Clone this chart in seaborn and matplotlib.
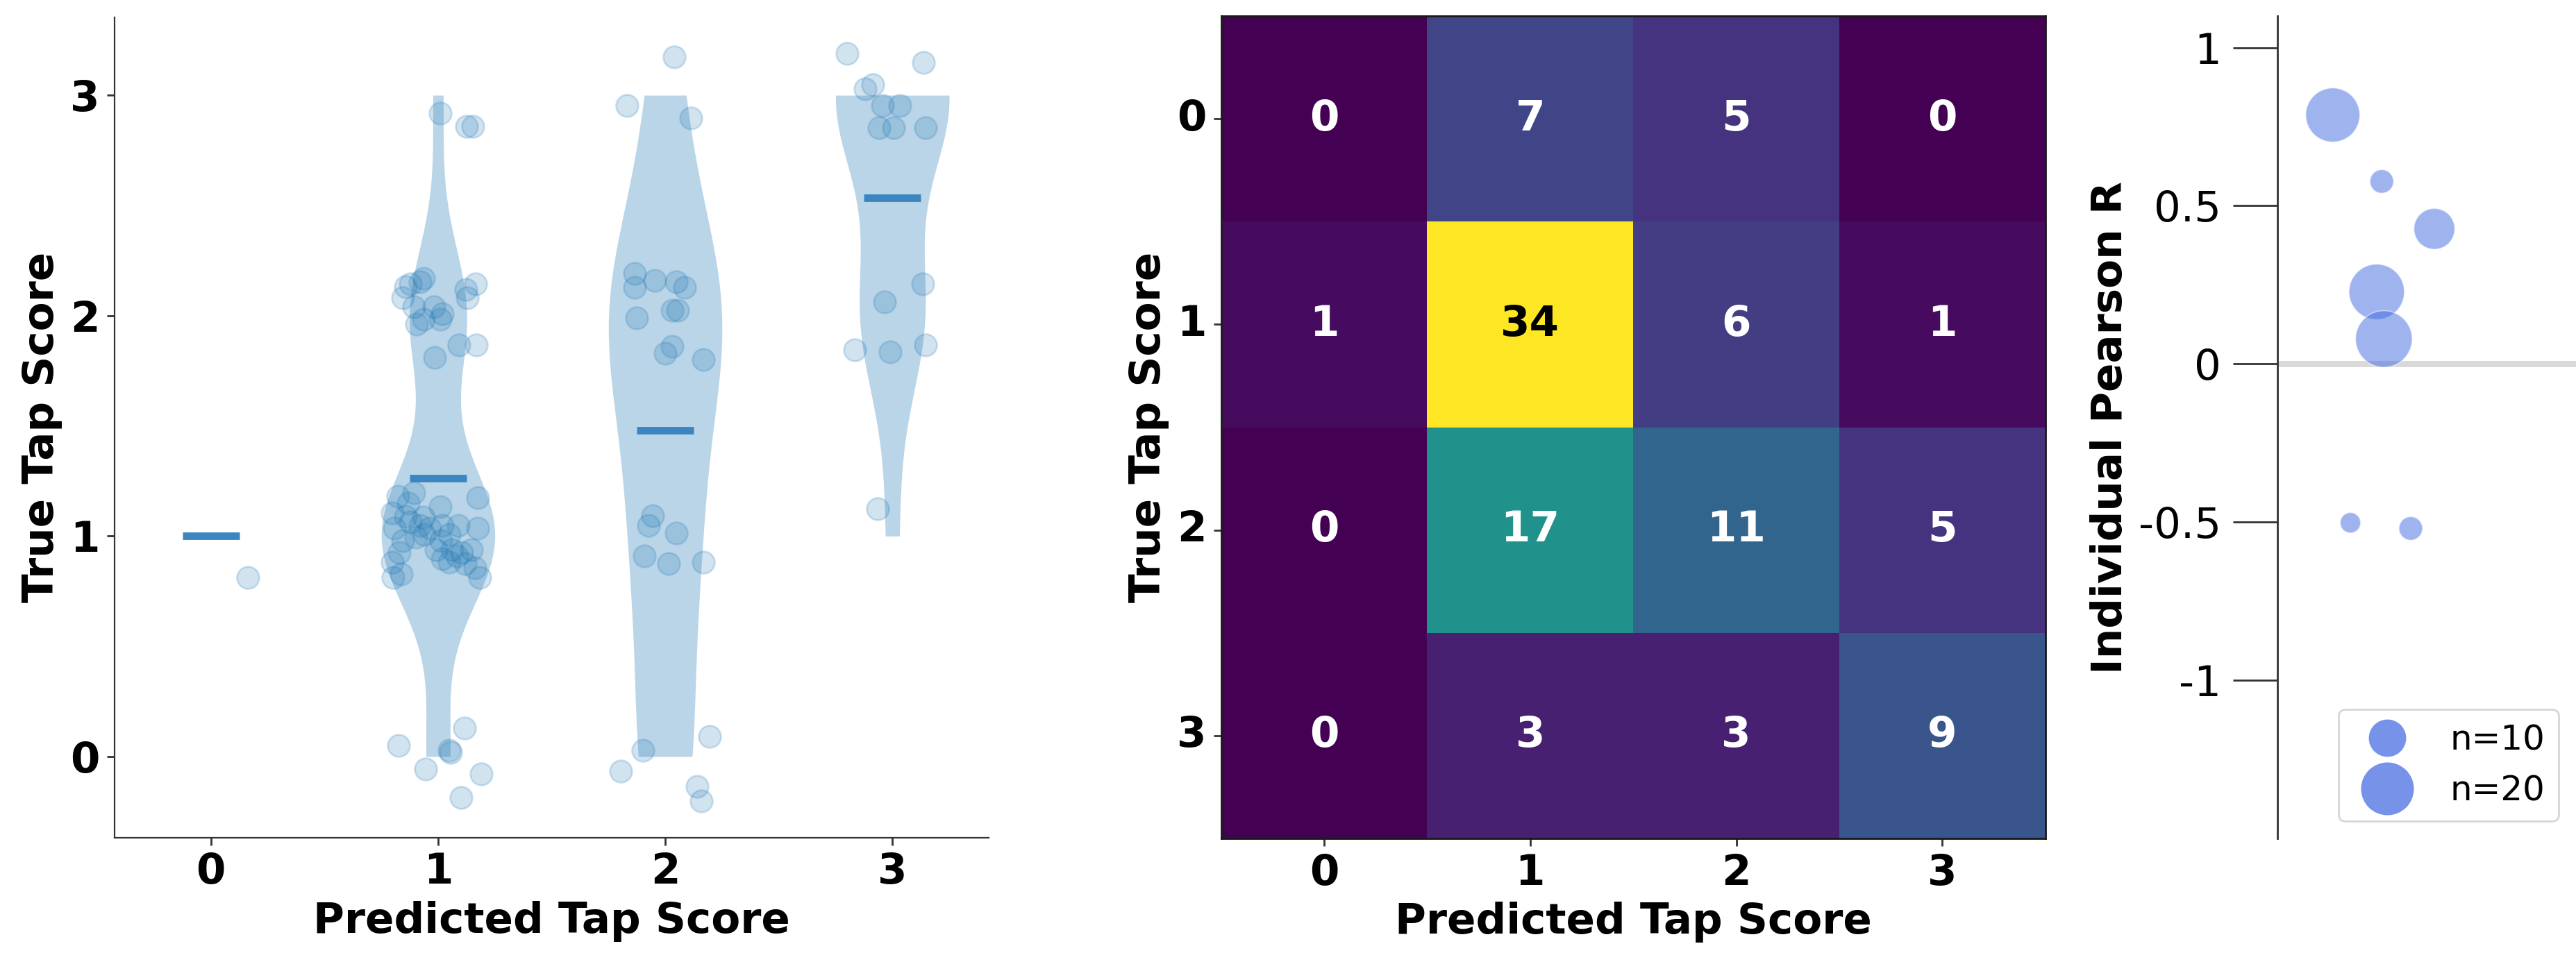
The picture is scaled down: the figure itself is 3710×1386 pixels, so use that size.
import numpy as np
import pandas as pd
import matplotlib
matplotlib.use("Agg")
import matplotlib.pyplot as plt
from matplotlib.lines import Line2D
from matplotlib.colors import to_rgb
import seaborn as sns

# ---------------- data ----------------
scores = [0, 1, 2, 3]
score_labels = ["0", "1", "2", "3"]

# confusion matrix: rows = true score, columns = predicted score
confusion = [[0, 7, 5, 0],
             [1, 34, 6, 1],
             [0, 17, 11, 5],
             [0, 3, 3, 9]]

# jitter offsets of every plotted observation (ordered by predicted, then true score)
jitter_x = [0.163,
            -0.175, -0.056, 0.048, 0.056, 0.115, 0.191, 0.101,
            -0.177, -0.107, -0.200, -0.144, -0.192, -0.121, -0.079, -0.099, -0.172, -0.200,
            -0.163, -0.197, 0.008, 0.020, 0.048, 0.014, 0.062, 0.020, 0.104, 0.146,
            0.175, 0.175, 0.161, 0.183, -0.065, -0.037, -0.010, 0.082, 0.118, 0.048,
            -0.155, -0.060, 0.090, -0.130,
            -0.121, -0.065, -0.080, -0.144, -0.155, -0.107, -0.065, -0.017, 0.008, 0.020,
            0.124, 0.130, 0.166, 0.169, 0.093, -0.014, -0.093,
            0.008, 0.127, 0.152,
            -0.197, -0.099, 0.194, 0.141, 0.160,
            -0.056, -0.073, 0.048, -0.093, 0.014, 0.169,
            -0.135, -0.135, -0.045, 0.048, 0.085, -0.127, 0.030, 0.056, 0.030, 0.000, 0.169,
            -0.169, 0.039, 0.113,
            -0.065,
            0.135, -0.034, -0.166, -0.011, 0.146,
            -0.200, -0.121, -0.087, 0.138, -0.042, -0.060, 0.006, 0.146, 0.034]
jitter_y = [-0.187,
            0.050, -0.056, 0.030, 0.020, 0.128, -0.080, -0.186,
            0.180, 0.195, 0.105, 0.090, 0.036, 0.064, 0.050, -0.006, -0.075, -0.117,
            -0.173, -0.187, 0.134, 0.050, 0.008, -0.020, -0.061, -0.103, -0.075, -0.061,
            0.175, 0.036, -0.145, -0.187, 0.086, 0.036, -0.061, -0.089, -0.125, -0.117,
            -0.020, 0.008, 0.050, 0.150,
            0.145, 0.170, 0.155, 0.130, 0.080, 0.040, -0.015, 0.040, -0.015, 0.010,
            0.120, 0.080, 0.145, -0.133, -0.133, -0.190, -0.040,
            -0.080, -0.140, -0.140,
            -0.067, 0.030, 0.092, -0.136, -0.200,
            0.092, 0.050, 0.014, -0.089, -0.125, -0.117,
            0.190, 0.127, 0.160, 0.155, 0.127, -0.010, 0.026, 0.026, -0.140, -0.170, -0.200,
            -0.047, 0.175, -0.103,
            0.125,
            0.145, 0.062, -0.156, -0.164, -0.133,
            0.190, 0.028, 0.047, 0.148, -0.047, -0.148, -0.148, -0.148, -0.047]

# individual subjects: Pearson R, number of samples, horizontal spread
pearson_r = [0.787, 0.577, 0.427, 0.228, 0.079, -0.502, -0.520]
n_samples = [21, 4, 12, 22, 23, 3, 4]
subject_x = [0.186, 0.350, 0.526, 0.333, 0.357, 0.245, 0.447]
legend_n = [10, 20]

# ---------------- build observation table from the confusion matrix ----------------
pred_list, true_list = [], []
for p in scores:
    for t in scores:
        pred_list += [p] * confusion[t][p]
        true_list += [t] * confusion[t][p]
df = pd.DataFrame({"pred": pred_list, "true": true_list})
df["x_plot"] = df["pred"] + np.array(jitter_x)
df["y_plot"] = df["true"] + np.array(jitter_y)

# ---------------- style ----------------
sns.set_style("ticks")
plt.rcParams["font.family"] = ["DejaVu Sans"]
plt.rcParams["axes.unicode_minus"] = False
plt.rcParams["axes.edgecolor"] = "0.2"
plt.rcParams["xtick.color"] = "0.2"
plt.rcParams["ytick.color"] = "0.2"
plt.rcParams["xtick.labelcolor"] = "black"
plt.rcParams["ytick.labelcolor"] = "black"
plt.rcParams["axes.labelcolor"] = "black"
plt.rcParams["text.color"] = "black"

C0 = "#1f77b4"
FS = 22

fig = plt.figure(figsize=(18.55, 6.93), dpi=200)
ax1 = fig.add_axes([0.0444, 0.1294, 0.3395, 0.8528])
ax2 = fig.add_axes([0.4740, 0.1284, 0.3200, 0.8550])
ax3 = fig.add_axes([0.8840, 0.1284, 0.1160, 0.8550])

# ---------------- panel 1: violins + jittered points ----------------
sns.violinplot(data=df, x="pred", y="true", order=scores, orient="x",
               inner=None, cut=0, width=0.5, density_norm="width",
               color=C0, saturation=1, linewidth=0, alpha=0.3, ax=ax1)
means = df.groupby("pred")["true"].mean()
ax1.hlines(means.values, means.index - 0.125, means.index + 0.125,
           color="#3b86c0", linewidth=3.9, zorder=4)
sns.scatterplot(data=df, x="x_plot", y="y_plot", color=C0, alpha=0.2, s=132,
                edgecolor=C0, linewidth=1.0, legend=False, zorder=3, ax=ax1)
ax1.set_xlim(-0.425, 3.425)
ax1.set_ylim(-0.367, 3.354)
ax1.set_xticks(scores)
ax1.set_xticklabels(score_labels)
ax1.set_yticks(scores)
ax1.set_yticklabels(score_labels)
ax1.tick_params(labelsize=FS, length=4, width=1, labelcolor="black")
for lab in ax1.get_xticklabels() + ax1.get_yticklabels():
    lab.set_fontweight("bold")
ax1.set_xlabel("Predicted Tap Score", fontsize=FS, fontweight="bold", color="black")
ax1.set_ylabel("True Tap Score", fontsize=FS, fontweight="bold", color="black")
sns.despine(ax=ax1)

# ---------------- panel 2: confusion heatmap ----------------
sns.heatmap(np.array(confusion), annot=True, fmt="d", cmap="viridis", cbar=False,
            vmin=0, vmax=34, xticklabels=score_labels, yticklabels=score_labels,
            annot_kws={"fontsize": FS, "fontweight": "bold"}, ax=ax2)
for txt in ax2.texts:
    if sum(to_rgb(txt.get_color())) < 1.5:
        txt.set_color("black")
for sp in ax2.spines.values():
    sp.set_visible(True)
    sp.set_color("0.1")
    sp.set_linewidth(1.0)
ax2.tick_params(labelsize=FS, length=4, width=1, labelcolor="black")
ax2.set_yticklabels(score_labels, rotation=0)
for lab in ax2.get_xticklabels() + ax2.get_yticklabels():
    lab.set_fontweight("bold")
ax2.set_xlabel("Predicted Tap Score", fontsize=FS, fontweight="bold", color="black")
ax2.set_ylabel("True Tap Score", fontsize=FS, fontweight="bold", color="black")

# ---------------- panel 3: individual Pearson R ----------------
k = 37.5
ax3.axhline(0, color="#d9d9d9", linewidth=3.2, zorder=0)
sns.scatterplot(x=subject_x, y=pearson_r, size=n_samples,
                sizes=(k * min(n_samples), k * max(n_samples)),
                size_norm=(min(n_samples), max(n_samples)),
                color="royalblue", alpha=0.5, edgecolor="white", linewidth=0.6,
                legend=False, zorder=3, ax=ax3)
ax3.set_xlim(0, 1)
ax3.set_ylim(-1.5, 1.1)
ax3.set_yticks([-1, -0.5, 0, 0.5, 1])
ax3.set_yticklabels(["-1", "-0.5", "0", "0.5", "1"])
ax3.tick_params(axis="y", labelsize=FS, length=23, width=1, pad=6, labelcolor="black")
ax3.set_xticks([])
for s in ["top", "right", "bottom"]:
    ax3.spines[s].set_visible(False)
ax3.spines["left"].set_linewidth(1.0)
ax3.set_ylabel("Individual Pearson R", fontsize=FS, fontweight="bold", color="black")
handles = [Line2D([], [], linestyle="none", marker="o", markersize=np.sqrt(k * n),
                  color="royalblue", alpha=0.72, markeredgewidth=0)
           for n in legend_n]
leg = ax3.legend(handles, [f"n={n}" for n in legend_n], loc="lower right", fontsize=18,
                 frameon=True)
for t in leg.get_texts():
    t.set_color("black")

fig.savefig("out.png", dpi=200)
